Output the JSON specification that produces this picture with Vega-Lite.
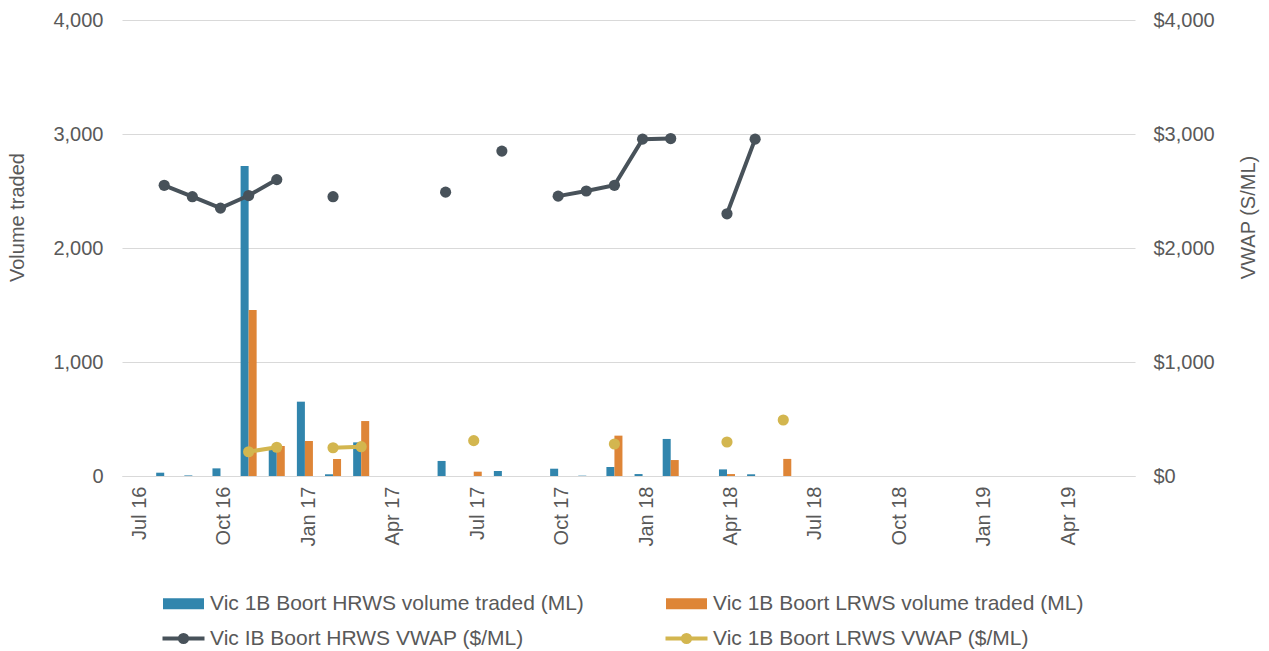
{
  "$schema": "https://vega.github.io/schema/vega-lite/v6.json",
  "autosize": {"type": "none"},
  "padding": {"left": 122, "top": 20, "right": 134, "bottom": 175},
  "width": 1013,
  "height": 456,
  "background": "white",
  "config": {
    "font": "Liberation Sans",
    "view": {"stroke": null},
    "axis": {"labelFont": "Liberation Sans", "titleFont": "Liberation Sans", "labelColor": "#595959", "titleColor": "#595959", "labelFontSize": 20, "titleFontSize": 20, "titleFontWeight": "normal", "ticks": false},
    "legend": {"labelFont": "Liberation Sans", "labelFontSize": 21, "labelColor": "#595959", "labelLimit": 600}
  },
  "data": {"values": [
    {"month": "Jul 16", "hv": null, "lv": null, "hp": null, "lp": null},
    {"month": "Aug 16", "hv": 29, "lv": null, "hp": 2550, "lp": null},
    {"month": "Sep 16", "hv": 5, "lv": null, "hp": 2450, "lp": null},
    {"month": "Oct 16", "hv": 67, "lv": null, "hp": 2350, "lp": null},
    {"month": "Nov 16", "hv": 2719, "lv": 1456, "hp": 2460, "lp": 213},
    {"month": "Dec 16", "hv": 240, "lv": 263, "hp": 2600, "lp": 252},
    {"month": "Jan 17", "hv": 652, "lv": 307, "hp": null, "lp": null},
    {"month": "Feb 17", "hv": 15, "lv": 149, "hp": 2450, "lp": 248},
    {"month": "Mar 17", "hv": 295, "lv": 482, "hp": null, "lp": 257},
    {"month": "Apr 17", "hv": null, "lv": null, "hp": null, "lp": null},
    {"month": "May 17", "hv": null, "lv": null, "hp": null, "lp": null},
    {"month": "Jun 17", "hv": 132, "lv": null, "hp": 2490, "lp": null},
    {"month": "Jul 17", "hv": null, "lv": 38, "hp": null, "lp": 310},
    {"month": "Aug 17", "hv": 44, "lv": null, "hp": 2850, "lp": null},
    {"month": "Sep 17", "hv": null, "lv": null, "hp": null, "lp": null},
    {"month": "Oct 17", "hv": 64, "lv": null, "hp": 2455, "lp": null},
    {"month": "Nov 17", "hv": 3, "lv": null, "hp": 2500, "lp": null},
    {"month": "Dec 17", "hv": 79, "lv": 354, "hp": 2550, "lp": 281},
    {"month": "Jan 18", "hv": 17, "lv": null, "hp": 2955, "lp": null},
    {"month": "Feb 18", "hv": 325, "lv": 140, "hp": 2960, "lp": null},
    {"month": "Mar 18", "hv": null, "lv": null, "hp": null, "lp": null},
    {"month": "Apr 18", "hv": 58, "lv": 17, "hp": 2300, "lp": 298},
    {"month": "May 18", "hv": 15, "lv": null, "hp": 2955, "lp": null},
    {"month": "Jun 18", "hv": null, "lv": 150, "hp": null, "lp": 491},
    {"month": "Jul 18", "hv": null, "lv": null, "hp": null, "lp": null},
    {"month": "Aug 18", "hv": null, "lv": null, "hp": null, "lp": null},
    {"month": "Sep 18", "hv": null, "lv": null, "hp": null, "lp": null},
    {"month": "Oct 18", "hv": null, "lv": null, "hp": null, "lp": null},
    {"month": "Nov 18", "hv": null, "lv": null, "hp": null, "lp": null},
    {"month": "Dec 18", "hv": null, "lv": null, "hp": null, "lp": null},
    {"month": "Jan 19", "hv": null, "lv": null, "hp": null, "lp": null},
    {"month": "Feb 19", "hv": null, "lv": null, "hp": null, "lp": null},
    {"month": "Mar 19", "hv": null, "lv": null, "hp": null, "lp": null},
    {"month": "Apr 19", "hv": null, "lv": null, "hp": null, "lp": null},
    {"month": "May 19", "hv": null, "lv": null, "hp": null, "lp": null},
    {"month": "Jun 19", "hv": null, "lv": null, "hp": null, "lp": null}
  ]},
  "layer": [
    {
      "transform": [{"fold": ["hv", "lv"], "as": ["series", "vol"]}],
      "mark": {"type": "bar"},
      "encoding": {
        "x": {
          "field": "month", "type": "ordinal", "sort": null,
          "scale": {"domain": ["Jul 16","Aug 16","Sep 16","Oct 16","Nov 16","Dec 16","Jan 17","Feb 17","Mar 17","Apr 17","May 17","Jun 17","Jul 17","Aug 17","Sep 17","Oct 17","Nov 17","Dec 17","Jan 18","Feb 18","Mar 18","Apr 18","May 18","Jun 18","Jul 18","Aug 18","Sep 18","Oct 18","Nov 18","Dec 18","Jan 19","Feb 19","Mar 19","Apr 19","May 19","Jun 19"], "paddingInner": 0.43, "paddingOuter": 0.215},
          "axis": {"title": null, "labelAngle": -90, "labelPadding": 10, "labelOffset": 4, "values": ["Jul 16","Oct 16","Jan 17","Apr 17","Jul 17","Oct 17","Jan 18","Apr 18","Jul 18","Oct 18","Jan 19","Apr 19"], "domainColor": "#D9D9D9", "grid": false}
        },
        "xOffset": {"field": "series", "type": "nominal", "scale": {"domain": ["hv", "lv"], "paddingInner": 0}},
        "y": {
          "field": "vol", "type": "quantitative",
          "scale": {"domain": [0, 4000]},
          "axis": {"title": "Volume traded", "format": ",.0f", "values": [0, 1000, 2000, 3000, 4000], "grid": true, "gridColor": "#D9D9D9", "domain": false, "labelPadding": 19, "titlePadding": 25, "titleY": 197}
        },
        "color": {
          "field": "series", "type": "nominal",
          "scale": {"domain": ["hv", "lv", "hp", "lp"], "range": ["#3185AD", "#DE8537", "#48525A", "#D3B64F"]},
          "legend": {
            "title": null, "orient": "none", "legendX": 51, "legendY": 573, "direction": "horizontal", "columns": 2,
            "columnPadding": 73, "rowPadding": 12, "symbolSize": 400, "labelOffset": 16, "padding": 0,
            "labelExpr": "{'hv': 'Vic 1B Boort HRWS volume traded (ML)', 'lv': 'Vic 1B Boort LRWS volume traded (ML)', 'hp': 'Vic IB Boort HRWS VWAP ($/ML)', 'lp': 'Vic 1B Boort LRWS VWAP ($/ML)'}[datum.value]",
            "encode": {"symbols": {"update": {
              "shape": {"signal": "datum.value == 'hv' || datum.value == 'lv' ? 'M-2.05,-0.55H2.05V0.55H-2.05Z' : 'M-2.1,0H2.1M0.36,0A0.36,0.36,0,1,1,-0.36,0A0.36,0.36,0,1,1,0.36,0'"},
              "fill": {"scale": "color", "field": "value"},
              "stroke": {"scale": "color", "field": "value"},
              "strokeWidth": {"signal": "datum.value == 'hv' || datum.value == 'lv' ? 0 : 4"},
              "opacity": {"value": 1},
              "fillOpacity": {"value": 1},
              "strokeOpacity": {"value": 1}
            }}}
          }
        }
      }
    },
    {
      "transform": [{"fold": ["hp", "lp"], "as": ["series", "vwap"]}],
      "mark": {"type": "line", "strokeWidth": 4, "invalid": "break-paths-filter-domains", "point": {"filled": true, "size": 125}},
      "encoding": {
        "x": {"field": "month", "type": "ordinal", "sort": null},
        "y": {
          "field": "vwap", "type": "quantitative",
          "scale": {"domain": [0, 4000]},
          "axis": {"orient": "right", "title": "VWAP (S/ML)", "titleAngle": -90, "titleY": 197, "format": "$,.0f", "values": [0, 1000, 2000, 3000, 4000], "grid": false, "domain": false, "labelPadding": 18, "titlePadding": 44}
        },
        "color": {"field": "series", "type": "nominal"}
      }
    }
  ],
  "resolve": {"scale": {"y": "independent"}}
}
